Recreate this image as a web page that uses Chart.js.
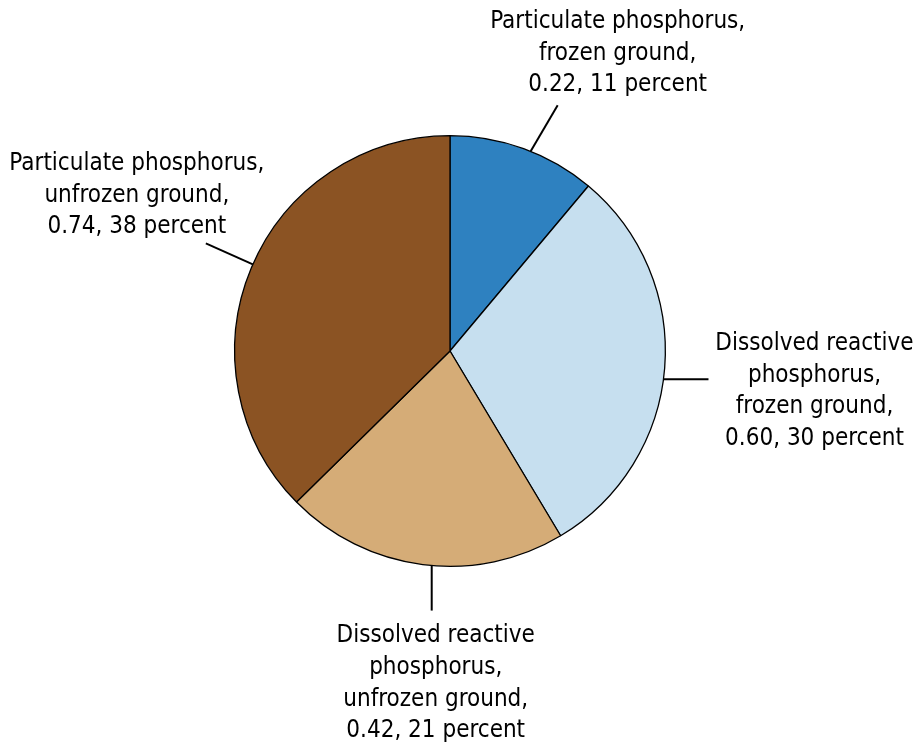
<!DOCTYPE html>
<html>
<head>
<meta charset="utf-8">
<script src="https://cdn.jsdelivr.net/npm/chart.js@4/dist/chart.umd.min.js"></script>
<style>
  html, body { margin: 0; padding: 0; background: #fff; }
  #wrap { width: 918px; height: 744px; position: relative; }
</style>
</head>
<body>
<div id="wrap"><canvas id="pie"></canvas></div>
<script>
/* Phosphorus load pie: particulate vs dissolved, frozen vs unfrozen ground */

const categories = [
  "Particulate phosphorus, frozen ground",
  "Dissolved reactive phosphorus, frozen ground",
  "Dissolved reactive phosphorus, unfrozen ground",
  "Particulate phosphorus, unfrozen ground",
];
const loads = [0.22, 0.60, 0.42, 0.74];
const percents = [11, 30, 21, 38];
const labelLines = [
  ["Particulate phosphorus,", "frozen ground,"],
  ["Dissolved reactive", "phosphorus,", "frozen ground,"],
  ["Dissolved reactive", "phosphorus,", "unfrozen ground,"],
  ["Particulate phosphorus,", "unfrozen ground,"],
];
const sliceColors = ["#2e81c0", "#c6dfef", "#d5ac77", "#8b5323"];

// leader: angle nudge from slice middle (deg), line vector, text block offset from line end
const leaders = [
  { nudge: 2, dx: 27, dy: -46, tx: 60, ty: -52 },
  { nudge: 3, dx: 45, dy: 0, tx: 106, ty: 12 },
  { nudge: -2.4, dx: 0, dy: 45, tx: 4, ty: 73 },
  { nudge: 1, dx: -47, dy: -21, tx: -69, ty: -48 },
];

const FONT = '24px "Liberation Sans Narrow", "DejaVu Sans Condensed", sans-serif';
const LINE_H = 31.7;

const calloutPlugin = {
  id: "callouts",
  afterDraw(chart) {
    const ctx = chart.ctx;
    const arcs = chart.getDatasetMeta(0).data;
    ctx.save();
    ctx.strokeStyle = "#000";
    ctx.lineWidth = 2;
    ctx.fillStyle = "#000";
    ctx.font = FONT;
    ctx.textAlign = "center";
    ctx.textBaseline = "middle";
    arcs.forEach((arc, i) => {
      const p = arc.getProps(["x", "y", "startAngle", "endAngle", "outerRadius"], true);
      const L = leaders[i];
      const mid = (p.startAngle + p.endAngle) / 2 + (L.nudge * Math.PI) / 180;
      const sx = p.x + Math.cos(mid) * p.outerRadius;
      const sy = p.y + Math.sin(mid) * p.outerRadius;
      const ex = sx + L.dx, ey = sy + L.dy;
      ctx.beginPath();
      ctx.moveTo(sx, sy);
      ctx.lineTo(ex, ey);
      ctx.stroke();
      const lines = labelLines[i].concat([
        loads[i].toFixed(2) + ", " + percents[i] + " percent",
      ]);
      const cx = ex + L.tx, cy = ey + L.ty;
      const top = cy - ((lines.length - 1) * LINE_H) / 2;
      lines.forEach((t, k) => ctx.fillText(t, cx, top + k * LINE_H));
    });
    ctx.restore();
  },
};

new Chart(document.getElementById("pie"), {
  type: "pie",
  data: {
    labels: categories,
    datasets: [
      {
        data: loads,
        backgroundColor: sliceColors,
        borderColor: "#000",
        borderWidth: 1.3,
      },
    ],
  },
  options: {
    responsive: true,
    maintainAspectRatio: false,
    animation: false,
    layout: { padding: { top: 135, bottom: 177, left: 234, right: 252 } },
    plugins: {
      legend: { display: false },
      tooltip: { enabled: false },
    },
  },
  plugins: [calloutPlugin],
});
</script>
</body>
</html>
